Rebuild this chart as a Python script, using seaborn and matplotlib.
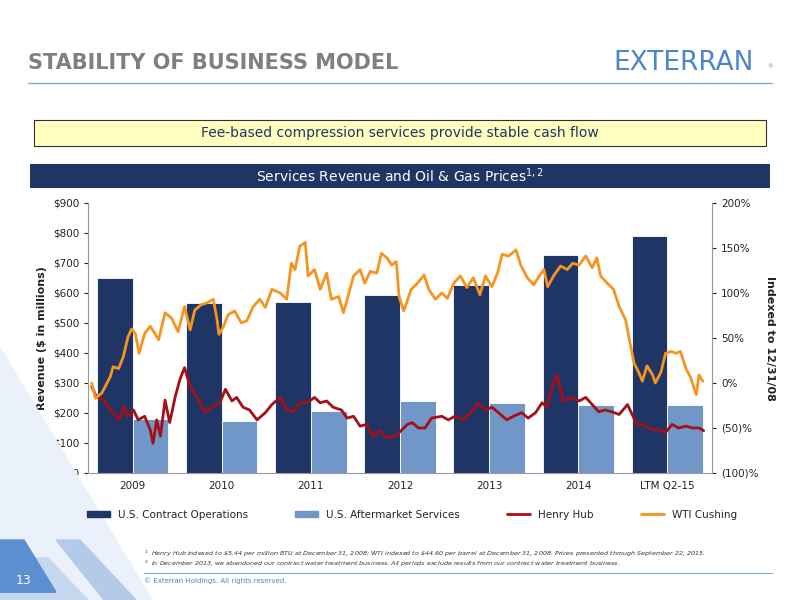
import matplotlib
matplotlib.use("Agg")
import matplotlib.pyplot as plt
import seaborn as sns
import pandas as pd
import numpy as np
from matplotlib.patches import Rectangle, Polygon
from matplotlib.lines import Line2D
from matplotlib.ticker import FuncFormatter

sns.set_style("white")
plt.rcParams['font.family'] = ['DejaVu Sans']

periods = ["2009", "2010", "2011", "2012", "2013", "2014", "LTM Q2-15"]
contract_ops = [650, 565, 570, 593, 625, 728, 790]
aftermarket = [180, 173, 208, 240, 232, 228, 225]

wti_t = [2009.04, 2009.08, 2009.15, 2009.24, 2009.27, 2009.33, 2009.38, 2009.43, 2009.47, 2009.51,
         2009.55, 2009.61, 2009.67, 2009.72, 2009.76, 2009.83, 2009.90, 2009.97, 2010.04, 2010.10,
         2010.15, 2010.22, 2010.28, 2010.35, 2010.39, 2010.41, 2010.46, 2010.51, 2010.58, 2010.65,
         2010.71, 2010.78, 2010.85, 2010.91, 2010.98, 2011.07, 2011.14, 2011.19, 2011.23, 2011.28,
         2011.34, 2011.37, 2011.44, 2011.50, 2011.57, 2011.62, 2011.70, 2011.75, 2011.80, 2011.86,
         2011.93, 2011.98, 2012.04, 2012.11, 2012.16, 2012.22, 2012.27, 2012.32, 2012.35, 2012.40,
         2012.48, 2012.55, 2012.62, 2012.67, 2012.74, 2012.81, 2012.87, 2012.94, 2013.01, 2013.08,
         2013.15, 2013.22, 2013.28, 2013.35, 2013.41, 2013.46, 2013.53, 2013.61, 2013.66, 2013.73,
         2013.80, 2013.86, 2013.91, 2013.95, 2014.02, 2014.09, 2014.16, 2014.22, 2014.29, 2014.36,
         2014.43, 2014.48, 2014.52, 2014.59, 2014.66, 2014.72, 2014.79, 2014.83, 2014.88, 2014.93,
         2014.97, 2015.02, 2015.08, 2015.11, 2015.17, 2015.22, 2015.28, 2015.33, 2015.38, 2015.44,
         2015.49, 2015.55, 2015.58, 2015.62]
wti_pct = [0, -17, -11, 7, 18, 16, 29, 51, 60, 55,
           33, 55, 63, 55, 48, 78, 72, 57, 85, 59,
           81, 87, 89, 93, 70, 54, 63, 76, 80, 67,
           69, 85, 93, 84, 104, 100, 93, 133, 126, 152,
           156, 119, 126, 104, 122, 93, 96, 78, 96, 119,
           126, 111, 124, 122, 144, 139, 131, 135, 96, 80,
           104, 111, 120, 104, 93, 100, 94, 111, 119, 106,
           117, 98, 119, 107, 122, 143, 141, 148, 131, 117,
           109, 119, 126, 107, 120, 130, 126, 133, 131, 141,
           128, 139, 119, 111, 104, 85, 70, 48, 22, 12,
           2, 19, 9, 0, 12, 33, 35, 33, 35, 16,
           6, -13, 9, 2]

hh_t = [2009.04, 2009.09, 2009.17, 2009.24, 2009.34, 2009.38, 2009.43, 2009.49, 2009.54, 2009.61,
        2009.67, 2009.70, 2009.74, 2009.78, 2009.83, 2009.88, 2009.94, 2009.99, 2010.04, 2010.10,
        2010.17, 2010.26, 2010.35, 2010.42, 2010.48, 2010.55, 2010.60, 2010.67, 2010.74, 2010.82,
        2010.91, 2010.98, 2011.07, 2011.14, 2011.21, 2011.28, 2011.36, 2011.44, 2011.50, 2011.57,
        2011.64, 2011.73, 2011.79, 2011.86, 2011.93, 2012.00, 2012.07, 2012.14, 2012.22, 2012.31,
        2012.37, 2012.44, 2012.49, 2012.56, 2012.63, 2012.70, 2012.81, 2012.88, 2012.95, 2013.04,
        2013.13, 2013.20, 2013.28, 2013.35, 2013.42, 2013.51, 2013.58, 2013.67, 2013.74, 2013.82,
        2013.89, 2013.94, 2014.00, 2014.05, 2014.09, 2014.12, 2014.21, 2014.29, 2014.36, 2014.43,
        2014.50, 2014.57, 2014.64, 2014.72, 2014.81, 2014.86, 2014.91, 2014.98, 2015.08, 2015.15,
        2015.22, 2015.29, 2015.36, 2015.44, 2015.51, 2015.58, 2015.63]
hh_pct = [-4, -15, -19, -30, -41, -26, -37, -30, -41, -37,
          -52, -67, -41, -59, -19, -44, -15, 4, 17, -4,
          -15, -32, -26, -22, -7, -20, -16, -27, -30, -41,
          -33, -24, -16, -30, -32, -22, -22, -16, -22, -20,
          -27, -30, -39, -37, -48, -46, -59, -53, -61, -59,
          -53, -46, -44, -50, -50, -39, -37, -41, -37, -41,
          -32, -22, -30, -27, -33, -41, -37, -33, -39, -33,
          -22, -27, -4, 9, -7, -20, -16, -20, -16, -24,
          -32, -30, -32, -35, -24, -35, -46, -46, -52, -52,
          -55, -46, -50, -48, -50, -50, -53]

NAVY = "#1f3566"
LIGHT = "#7097c8"
RED = "#a50f15"
ORANGE = "#f7941d"

fig = plt.figure(figsize=(8, 6), dpi=100)
fig.patch.set_facecolor("white")

# decorative shapes bottom-left
for pts, c in [([(0, 0.42), (0, 0.0), (0.19, 0.0)], "#eaf1fa"),
               ([(0.0, 0.07), (0.06, 0.07), (0.11, 0.0), (0.0, 0.0)], "#c6d8ee"),
               ([(0.07, 0.10), (0.10, 0.10), (0.17, 0.0), (0.13, 0.0)], "#b3cbe9"),
               ([(0.0, 0.10), (0.03, 0.10), (0.07, 0.013), (0.0, 0.013)], "#5b8fd0")]:
    fig.patches.append(Polygon(pts, closed=True, transform=fig.transFigure, color=c, zorder=0))
fig.text(0.03, 0.032, "13", color="white", fontsize=9, ha="center", va="center")

# header
fig.text(0.035, 0.895, "STABILITY OF BUSINESS MODEL", fontsize=15, fontweight="bold",
         color="#7f7f7f", ha="left", va="center")
fig.text(0.855, 0.895, "EXTERRAN", fontsize=19, color="#4a86c8", ha="center", va="center")
fig.text(0.962, 0.888, "®", fontsize=4, color="#4a86c8", ha="center", va="center")
fig.add_artist(Line2D([0.035, 0.965], [0.862, 0.862], color="#7fa7d8", lw=1, transform=fig.transFigure))

# yellow box
fig.patches.append(Rectangle((0.0425, 0.757), 0.915, 0.043, transform=fig.transFigure,
                             facecolor="#ffffc0", edgecolor="#333333", lw=0.8))
fig.text(0.5, 0.778, "Fee-based compression services provide stable cash flow",
         fontsize=10, color="#1f3566", ha="center", va="center")

# navy banner
fig.patches.append(Rectangle((0.0375, 0.687), 0.925, 0.04, transform=fig.transFigure,
                             facecolor="#1f3566", edgecolor="none"))
fig.text(0.5, 0.707, "Services Revenue and Oil & Gas Prices$^{1,2}$", fontsize=10,
         color="white", ha="center", va="center")

# chart
ax = fig.add_axes([0.11, 0.2117, 0.78, 0.45])
ax.patch.set_alpha(0)
df = pd.DataFrame({
    "period": periods * 2,
    "value": contract_ops + aftermarket,
    "series": ["U.S. Contract Operations"] * 7 + ["U.S. Aftermarket Services"] * 7,
})
sns.barplot(data=df, x="period", y="value", hue="series", palette=[NAVY, LIGHT],
            width=0.8, ax=ax, legend=False, saturation=1, edgecolor="white", linewidth=0.6)
ax.set_ylim(0, 900)
ax.set_xlim(-0.5, 6.5)
ax.set_yticks(range(0, 901, 100))
ax.yaxis.set_major_formatter(FuncFormatter(lambda v, p: f"${int(v)}"))
ax.set_xlabel("")
ax.set_ylabel("Revenue ($ in millions)", fontsize=8, fontweight="bold", color="#222222")
ax.tick_params(axis="both", labelsize=7.5, colors="#222222", length=3, direction="out")
ax.tick_params(axis="x", pad=6)
for s in ["top", "right"]:
    ax.spines[s].set_visible(False)
for s in ["left", "bottom"]:
    ax.spines[s].set_color("#999999")
ax.set_xticks(np.arange(-0.5, 7, 1), minor=True)
ax.tick_params(axis="x", which="major", length=0)
ax.tick_params(axis="x", which="minor", length=3, color="#999999")

def to_u(t):
    return [-0.5 + (v - 2009) * 7 / 6.72 for v in t]

ax2 = ax.twinx()
sns.lineplot(x=to_u(hh_t), y=hh_pct, ax=ax2, color=RED, lw=2, sort=False)
sns.lineplot(x=to_u(wti_t), y=wti_pct, ax=ax2, color=ORANGE, lw=2, sort=False)
ax2.set_ylim(-100, 200)
ax2.set_xlim(-0.5, 6.5)
ax2.set_yticks(range(-100, 201, 50))
ax2.yaxis.set_major_formatter(FuncFormatter(lambda v, p: f"({abs(int(v))})%" if v < 0 else f"{int(v)}%"))
ax2.set_ylabel("Indexed to 12/31/08", fontsize=8, fontweight="bold", color="#222222",
               rotation=-90, labelpad=12)
ax2.tick_params(axis="y", labelsize=7.5, colors="#222222", length=3)
for s in ["top", "left", "bottom"]:
    ax2.spines[s].set_visible(False)
ax2.spines["right"].set_color("#999999")

handles = [Rectangle((0, 0), 1, 1, color=NAVY), Rectangle((0, 0), 1, 1, color=LIGHT),
           Line2D([], [], color=RED, lw=2), Line2D([], [], color=ORANGE, lw=2)]
labels = ["U.S. Contract Operations", "U.S. Aftermarket Services", "Henry Hub", "WTI Cushing"]
fig.legend(handles, labels, loc="center", bbox_to_anchor=(0.515, 0.142), ncol=4, frameon=False,
           fontsize=7.5, handlelength=2.2, handleheight=0.5, columnspacing=4.5)

# footnotes
fig.text(0.18, 0.077, "$^1$  Henry Hub indexed to \\$5.44 per million BTU at December 31, 2008; WTI indexed to \\$44.60 per barrel at December 31, 2008. Prices presented through September 22, 2015.",
         fontsize=4.6, style="italic", color="#333333", ha="left", va="center")
fig.text(0.18, 0.060, "$^2$  In December 2013, we abandoned our contract water treatment business. All periods exclude results from our contract water treatment business.",
         fontsize=4.6, style="italic", color="#333333", ha="left", va="center")
fig.add_artist(Line2D([0.18, 0.965], [0.045, 0.045], color="#7fa7d8", lw=0.8, transform=fig.transFigure))
fig.text(0.18, 0.032, "© Exterran Holdings. All rights reserved.", fontsize=5, color="#4a86c8",
         ha="left", va="center")

fig.savefig("out.png", dpi=100)
